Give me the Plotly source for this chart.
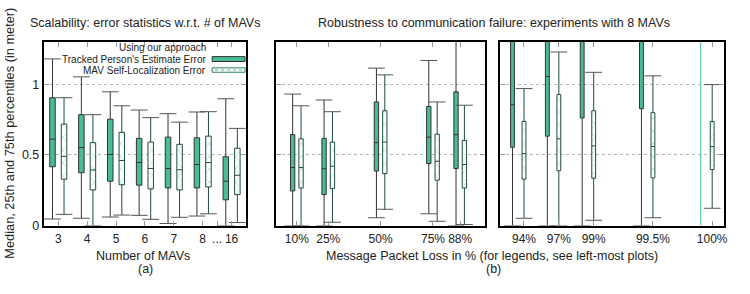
import plotly.graph_objects as go

# ---------------- data (lo whisker, q1, median, q3, hi whisker) ----------------
GROUPS_A = ["3", "4", "5", "6", "7", "8", "16"]
A_PERSON = [(0.046, 0.416, 0.612, 0.905, 1.180),
            (0.051, 0.374, 0.552, 0.785, 1.053),
            (0.060, 0.314, 0.503, 0.753, 0.947),
            (0.072, 0.286, 0.446, 0.617, 0.818),
            (0.014, 0.266, 0.404, 0.626, 0.792),
            (0.067, 0.266, 0.432, 0.621, 0.804),
            (0.000, 0.182, 0.314, 0.487, 0.898)]
A_MAV = [(0.079, 0.328, 0.490, 0.718, 0.905),
         (0.000, 0.252, 0.393, 0.587, 0.785),
         (0.074, 0.289, 0.460, 0.660, 0.848),
         (0.044, 0.259, 0.404, 0.591, 0.764),
         (0.058, 0.252, 0.395, 0.575, 0.732),
         (0.083, 0.273, 0.446, 0.633, 0.806),
         (0.021, 0.219, 0.356, 0.547, 0.688)]

LOSS_B = [10, 25, 50, 75, 88]
B_PERSON = [(0.000, 0.245, 0.411, 0.644, 0.931),
            (0.000, 0.219, 0.402, 0.617, 0.889),
            (0.055, 0.386, 0.587, 0.875, 1.115),
            (0.083, 0.439, 0.626, 0.843, 1.169),
            (0.000, 0.404, 0.644, 0.947, 1.600)]
B_MAV = [(0.000, 0.266, 0.411, 0.614, 0.848),
         (0.023, 0.261, 0.420, 0.591, 0.806),
         (0.115, 0.367, 0.591, 0.813, 1.067),
         (0.030, 0.321, 0.455, 0.647, 0.875),
         (0.007, 0.266, 0.432, 0.603, 0.852)]

LOSS_C = ["94%", "97%", "99%", "99.5%", "100%"]
C_PERSON = [(0.000, 0.554, 0.855, 1.450, 1.800),
            (0.000, 0.633, 1.055, 1.500, 1.900),
            (0.000, 0.762, 1.400, 1.700, 2.000),
            (0.000, 0.827, 1.450, 1.800, 2.100),
            (0.000, 1.600, 1.900, 2.200, 2.500)]
C_MAV = [(0.051, 0.328, 0.510, 0.737, 0.970),
         (0.000, 0.388, 0.614, 0.928, 1.229),
         (0.037, 0.335, 0.564, 0.813, 1.085),
         (0.055, 0.337, 0.559, 0.799, 1.060),
         (0.122, 0.397, 0.559, 0.737, 0.998)]

Y_TICKS = [0, 0.5, 1]
Y_TICKTEXT = ["0", "0.5", "1"]

# ---------------- layout constants ----------------
W, H = 750, 294
TEAL = "#48bd95"
TEAL_DARK = "#2f7d63"
EDGE = "#333333"
MAV_EDGE = "#1f4d3f"
WHISK = "#555555"
FONT = "Liberation Sans, Arial, sans-serif"
SLOT_C = [0, 1, 2, 3.7, 5.4]   # horizontal slots of the right panel
CAP = 12                        # whisker cap length in px


def px(x):
    return x / W


def py(y):
    return 1 - y / H


fig = go.Figure()


def caps(xs, stats, xa, ya, color):
    fig.add_trace(go.Scatter(
        x=list(xs) + list(xs), y=[s[0] for s in stats] + [s[4] for s in stats],
        mode="markers", xaxis=xa, yaxis=ya, showlegend=False, hoverinfo="skip",
        marker=dict(symbol="line-ew", size=CAP, line=dict(color=color, width=1))))


def add_panel(xs_person, xs_mav, person, mav, width, xa, ya, person_line=EDGE):
    # hatch under the white boxes
    fig.add_trace(go.Bar(
        x=xs_mav, base=[s[1] for s in mav], y=[s[3] - s[1] for s in mav],
        width=width, xaxis=xa, yaxis=ya, showlegend=False, hoverinfo="skip",
        marker=dict(color="white", line=dict(width=0),
                    pattern=dict(shape="x", fgcolor=TEAL, bgcolor="white",
                                 size=9, solidity=0.15))))
    fig.add_trace(go.Box(
        x=xs_person, lowerfence=[s[0] for s in person], q1=[s[1] for s in person],
        median=[s[2] for s in person], q3=[s[3] for s in person],
        upperfence=[s[4] for s in person], width=width, whiskerwidth=0,
        fillcolor=TEAL, line=dict(color=person_line, width=1),
        xaxis=xa, yaxis=ya, showlegend=False, boxpoints=False))
    fig.add_trace(go.Box(
        x=xs_mav, lowerfence=[s[0] for s in mav], q1=[s[1] for s in mav],
        median=[s[2] for s in mav], q3=[s[3] for s in mav],
        upperfence=[s[4] for s in mav], width=width, whiskerwidth=0,
        fillcolor="rgba(0,0,0,0)", line=dict(color=MAV_EDGE, width=1),
        xaxis=xa, yaxis=ya, showlegend=False, boxpoints=False))
    caps(xs_person, person, xa, ya, WHISK)
    caps(xs_mav, mav, xa, ya, WHISK)


# panel (a)
idx = list(range(len(GROUPS_A)))
add_panel([i - 0.2 for i in idx], [i + 0.2 for i in idx], A_PERSON, A_MAV, 0.19, "x", "y")
# panel (b)
add_panel([v - 2 for v in LOSS_B], [v + 2 for v in LOSS_B], B_PERSON, B_MAV, 2.07, "x2", "y2")
# panel (c)
add_panel([s - 0.33 for s in SLOT_C[:-1]], SLOT_C, C_PERSON[:-1], C_MAV, 0.11, "x3", "y3")
fig.add_trace(go.Box(
    x=[SLOT_C[-1] - 0.33], lowerfence=[C_PERSON[-1][0]], q1=[C_PERSON[-1][1]],
    median=[C_PERSON[-1][2]], q3=[C_PERSON[-1][3]], upperfence=[C_PERSON[-1][4]],
    width=0.11, whiskerwidth=0, fillcolor=TEAL, line=dict(color=TEAL, width=1),
    xaxis="x3", yaxis="y3", showlegend=False, boxpoints=False))

yd = [py(231), py(43)]
common_x = dict(showline=True, mirror="ticks", linewidth=2, linecolor="black",
                ticks="inside", ticklen=5, tickcolor="#999", showgrid=False,
                zeroline=False, ticklabelstandoff=1,
                tickfont=dict(size=12, color="#222"))
common_y = dict(showline=True, mirror="ticks", linewidth=2, linecolor="black",
                ticks="inside", ticklen=5, tickcolor="#999", showgrid=True,
                gridcolor="#b5b5b5", griddash="dot", gridwidth=1, zeroline=False,
                range=[0, 1.3], tickvals=Y_TICKS, ticktext=Y_TICKTEXT,
                tickfont=dict(size=12.5, color="#222"))

fig.update_layout(
    width=W, height=H, margin=dict(l=0, r=0, t=0, b=0),
    paper_bgcolor="white", plot_bgcolor="white",
    boxmode="overlay", barmode="overlay", showlegend=False,
    font=dict(family=FONT, size=12, color="#222"),
    xaxis=dict(common_x, domain=[px(44), px(247)], range=[-0.5, 6.5],
               tickvals=idx + [5.5], ticktext=GROUPS_A + ["..."]),
    yaxis=dict(common_y, domain=yd, anchor="x", showticklabels=True),
    xaxis2=dict(common_x, domain=[px(277), px(487.3)], range=[0, 100],
                tickvals=LOSS_B, ticktext=[f"{v}%" for v in LOSS_B], anchor="y2"),
    yaxis2=dict(common_y, domain=yd, anchor="x2", showticklabels=False),
    xaxis3=dict(common_x, domain=[px(502.3), px(727.3)], range=[-0.68, 5.75],
                tickvals=SLOT_C, ticktext=LOSS_C, anchor="y3"),
    yaxis3=dict(common_y, domain=yd, anchor="x3", showticklabels=False),
)


def note(text, x, y, size=12.5, anchor="center", angle=0):
    fig.add_annotation(text=text, x=px(x), y=py(y), xref="paper", yref="paper",
                       showarrow=False, xanchor=anchor, yanchor="middle",
                       textangle=angle, borderpad=0,
                       font=dict(size=size, color="#222", family=FONT))


note("Scalability: error statistics w.r.t. # of MAVs", 146, 24)
note("Robustness to communication failure: experiments with 8 MAVs", 495.6, 24)
note("Number of MAVs", 144, 262)
note("(a)", 146, 276)
note("Message Packet Loss in % (for legends, see left-most plots)", 494, 262)
note("(b)", 495, 276)
note("Median, 25th and 75th percentiles (in meter)", 10, 136, size=12.8, angle=-90)

# custom legend (gnuplot-style: text left of sample)
note("Using our approach", 208, 49, size=10, anchor="right")
note("Tracked Person's Estimate Error", 208, 60.5, size=10, anchor="right")
note("MAV Self-Localization Error", 208, 72, size=10, anchor="right")
fig.add_shape(type="rect", xref="paper", yref="paper", x0=px(213), x1=px(246),
              y0=py(63), y1=py(58), fillcolor=TEAL, line=dict(color=EDGE, width=1))
fig.add_shape(type="rect", xref="paper", yref="paper", x0=px(213), x1=px(246),
              y0=py(74), y1=py(69.5), fillcolor="white", line=dict(color=TEAL_DARK, width=1))
fig.add_shape(type="line", xref="paper", yref="paper", x0=px(216), x1=px(244),
              y0=py(71.8), y1=py(71.8), line=dict(color=TEAL, width=1, dash="dot"))

fig.write_html("out.html")
